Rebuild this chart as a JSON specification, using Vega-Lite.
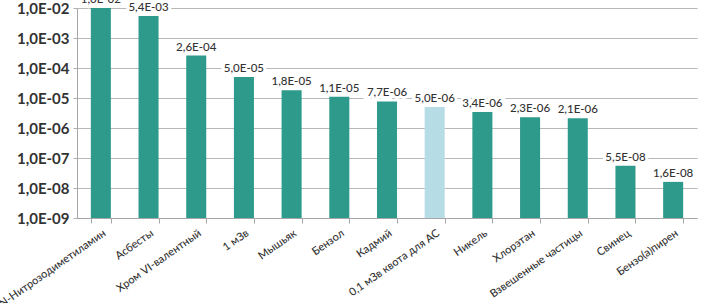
{
  "$schema": "https://vega.github.io/schema/vega-lite/v6.json",
  "autosize": {"type": "none"},
  "padding": {"left": 77, "top": 8, "right": 15, "bottom": 85},
  "width": 620,
  "height": 210,
  "background": "white",
  "config": {
    "view": {"stroke": null},
    "font": "Lato"
  },
  "data": {
    "values": [
      {"name": "N-Нитрозодиметиламин", "value": 1.0e-2, "label": "1,0E-02", "type": "chem"},
      {"name": "Асбесты", "value": 5.4e-3, "label": "5,4E-03", "type": "chem"},
      {"name": "Хром VI-валентный", "value": 2.6e-4, "label": "2,6E-04", "type": "chem"},
      {"name": "1 мЗв", "value": 5.0e-5, "label": "5,0E-05", "type": "chem"},
      {"name": "Мышьяк", "value": 1.8e-5, "label": "1,8E-05", "type": "chem"},
      {"name": "Бензол", "value": 1.1e-5, "label": "1,1E-05", "type": "chem"},
      {"name": "Кадмий", "value": 7.7e-6, "label": "7,7E-06", "type": "chem"},
      {"name": "0,1 мЗв квота для АС", "value": 5.0e-6, "label": "5,0E-06", "type": "rad"},
      {"name": "Никель", "value": 3.4e-6, "label": "3,4E-06", "type": "chem"},
      {"name": "Хлорэтан", "value": 2.3e-6, "label": "2,3E-06", "type": "chem"},
      {"name": "Взвешенные частицы", "value": 2.1e-6, "label": "2,1E-06", "type": "chem"},
      {"name": "Свинец", "value": 5.5e-8, "label": "5,5E-08", "type": "chem"},
      {"name": "Бензо(а)пирен", "value": 1.6e-8, "label": "1,6E-08", "type": "chem"}
    ]
  },
  "encoding": {
    "x": {
      "field": "name",
      "type": "nominal",
      "sort": null,
      "scale": {"paddingInner": 0.58, "paddingOuter": 0.29},
      "axis": {
        "title": null,
        "labelAngle": -35,
        "labelFontSize": 11,
        "labelFontWeight": 500,
        "labelColor": "#333333",
        "labelPadding": 4,
        "tickBand": "extent",
        "tickColor": "#a6a6a6",
        "tickSize": 5,
        "domainColor": "#a6a6a6",
        "grid": false
      }
    },
    "y": {
      "field": "value",
      "type": "quantitative",
      "scale": {"type": "log", "domain": [1e-9, 1e-2], "nice": false},
      "axis": {
        "title": null,
        "values": [1e-9, 1e-8, 1e-7, 1e-6, 1e-5, 1e-4, 1e-3, 1e-2],
        "labelExpr": "'1,0E-0' + round(-log(datum.value)/LN10)",
        "labelFontSize": 15,
        "labelFontWeight": "bold",
        "labelColor": "#333333",
        "labelPadding": 4,
        "tickSize": 4,
        "tickColor": "#b0b0b0",
        "domainColor": "#a6a6a6",
        "gridColor": "#b8b8b8",
        "gridWidth": 1.2
      }
    }
  },
  "layer": [
    {
      "mark": {"type": "bar"},
      "encoding": {
        "y2": {"datum": 1e-9},
        "color": {
          "field": "type",
          "type": "nominal",
          "scale": {"domain": ["chem", "rad"], "range": ["#2e9a8b", "#b6dde6"]},
          "legend": null
        }
      }
    },
    {
      "mark": {"type": "text", "baseline": "bottom", "dy": -3, "fontSize": 11.5, "stroke": "white", "strokeWidth": 6, "strokeJoin": "miter", "fill": "white"},
      "encoding": {"text": {"field": "label"}}
    },
    {
      "mark": {"type": "text", "baseline": "bottom", "dy": -3, "fontSize": 11.5, "fontWeight": 500, "color": "#333333"},
      "encoding": {"text": {"field": "label"}}
    }
  ]
}
